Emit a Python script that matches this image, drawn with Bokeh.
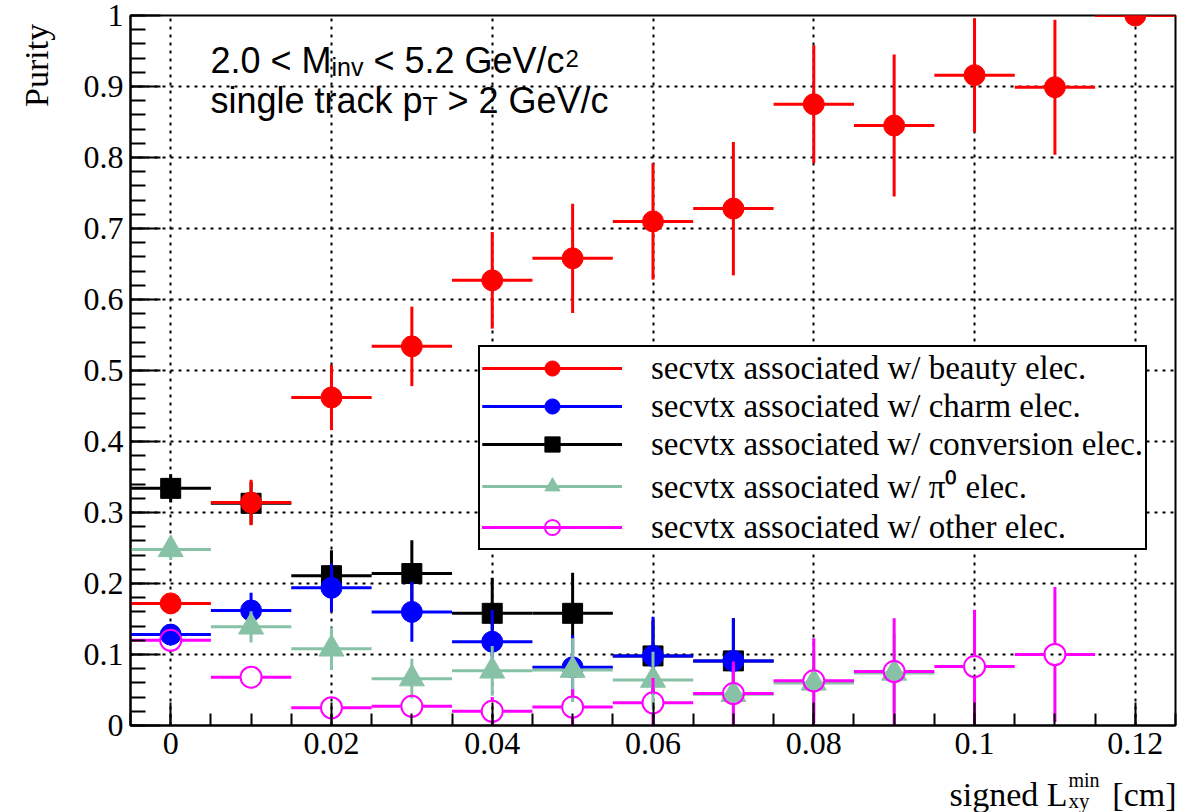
import numpy as np
from bokeh.plotting import figure
from bokeh.models import Range1d, FixedTicker, Label, Legend, LegendItem
from bokeh.layouts import row, column
from bokeh.embed import file_html
from bokeh.resources import INLINE

# ---------------- data ----------------
x_half_width = 0.005

beauty_x = [0.00, 0.01, 0.02, 0.03, 0.04, 0.05, 0.06, 0.07, 0.08, 0.09, 0.10, 0.11, 0.12]
beauty_y = [0.172, 0.314, 0.462, 0.534, 0.627, 0.658, 0.710, 0.728, 0.875, 0.845, 0.916, 0.899, 1.000]
beauty_err = [0.010, 0.032, 0.046, 0.056, 0.068, 0.077, 0.082, 0.094, 0.083, 0.100, 0.080, 0.095, 0.0]

charm_x = [0.00, 0.01, 0.02, 0.03, 0.04, 0.05, 0.06, 0.07]
charm_y = [0.128, 0.162, 0.194, 0.160, 0.118, 0.082, 0.098, 0.091]
charm_err = [0.010, 0.025, 0.034, 0.042, 0.045, 0.045, 0.055, 0.060]

conv_x = [0.00, 0.01, 0.02, 0.03, 0.04, 0.05, 0.06, 0.07]
conv_y = [0.334, 0.313, 0.211, 0.214, 0.158, 0.158, 0.098, 0.091]
conv_err = [0.020, 0.030, 0.036, 0.047, 0.050, 0.057, 0.050, 0.060]

pi0_x = [0.00, 0.01, 0.02, 0.03, 0.04, 0.05, 0.06, 0.07, 0.08, 0.09]
pi0_y = [0.248, 0.139, 0.108, 0.066, 0.077, 0.078, 0.064, 0.044, 0.060, 0.074]
pi0_err = [0.015, 0.022, 0.030, 0.028, 0.035, 0.045, 0.040, 0.040, 0.045, 0.055]

other_x = [0.00, 0.01, 0.02, 0.03, 0.04, 0.05, 0.06, 0.07, 0.08, 0.09, 0.10, 0.11]
other_y = [0.120, 0.068, 0.025, 0.027, 0.020, 0.026, 0.032, 0.045, 0.063, 0.076, 0.083, 0.100]
other_err = [0.008, 0.010, 0.010, 0.012, 0.020, 0.025, 0.035, 0.045, 0.060, 0.075, 0.080, 0.095]

x_tick_values = [0.0, 0.02, 0.04, 0.06, 0.08, 0.10, 0.12]
x_tick_labels = ["0", "0.02", "0.04", "0.06", "0.08", "0.1", "0.12"]
y_tick_values = [0.0, 0.1, 0.2, 0.3, 0.4, 0.5, 0.6, 0.7, 0.8, 0.9, 1.0]
y_tick_labels = ["0", "0.1", "0.2", "0.3", "0.4", "0.5", "0.6", "0.7", "0.8", "0.9", "1"]

labels = {
    "beauty": "secvtx associated w/ beauty elec.",
    "charm": "secvtx associated w/ charm elec.",
    "conv": "secvtx associated w/ conversion elec.",
    "pi0": "secvtx associated w/ \u03c0\u2070 elec.",
    "other": "secvtx associated w/ other elec.",
}

# ---------------- layout ----------------
W, H = 1203, 812
LEFT_W = 60                     # left strip (y title)
MAIN_H = 768                    # main figure height (frame + x tick labels)
FL, FR, FT, FB = 130, 1175, 15, 725
X0, X1, Y0, Y1 = -0.005, 0.125, 0.0, 1.0


def dx(px):
    return X0 + (px - FL) * (X1 - X0) / (FR - FL)


def dy(py):
    return Y0 + (FB - py) * (Y1 - Y0) / (FB - FT)


p = figure(width=W - LEFT_W, height=MAIN_H, output_backend="svg", toolbar_location=None,
           x_range=Range1d(X0, X1), y_range=Range1d(Y0, Y1), title=None,
           min_border_left=FL - LEFT_W, min_border_right=W - FR,
           min_border_top=FT, min_border_bottom=MAIN_H - FB)
p.background_fill_color = "white"
p.border_fill_color = "white"
p.outline_line_color = "black"
p.outline_line_width = 2

p.xaxis.ticker = FixedTicker(ticks=x_tick_values,
                             minor_ticks=list(np.arange(-0.005, 0.1251, 0.005)))
p.yaxis.ticker = FixedTicker(ticks=y_tick_values,
                             minor_ticks=list(np.arange(0.0, 1.0001, 0.02)))
p.xaxis.major_label_overrides = dict(zip(x_tick_values, x_tick_labels))
p.yaxis.major_label_overrides = dict(zip(y_tick_values, y_tick_labels))

for ax in (p.xaxis, p.yaxis):
    ax.axis_line_width = 2
    ax.axis_line_color = "black"
    ax.major_tick_line_color = "black"
    ax.minor_tick_line_color = "black"
    ax.major_tick_line_width = 2
    ax.minor_tick_line_width = 2
    ax.major_tick_out = 0
    ax.minor_tick_out = 0
    ax.major_label_text_font = "Liberation Serif"
    ax.major_label_text_font_size = "32px"
    ax.major_label_text_color = "black"
p.xaxis.major_tick_in = 23
p.xaxis.minor_tick_in = 12
p.yaxis.major_tick_in = 30
p.yaxis.minor_tick_in = 15
p.xaxis.major_label_standoff = 7
p.yaxis.major_label_standoff = 7

p.grid.grid_line_color = "black"
p.grid.grid_line_dash = "3 5"
p.grid.grid_line_width = 2

# ---------------- series ----------------
LW = 3


def draw_series(xs, ys, errs, color, marker, size, fill, gap_px=0.0):
    xs = np.asarray(xs, float)
    ys = np.asarray(ys, float)
    errs = np.asarray(errs, float)
    rends = []
    gx = gap_px * (X1 - X0) / (FR - FL)
    gy = gap_px * (Y1 - Y0) / (FB - FT)
    if gap_px > 0:
        rends.append(p.segment(x0=xs - x_half_width, y0=ys, x1=xs - gx, y1=ys,
                               line_color=color, line_width=LW))
        rends.append(p.segment(x0=xs + gx, y0=ys, x1=xs + x_half_width, y1=ys,
                               line_color=color, line_width=LW))
        m = errs > gy
        rends.append(p.segment(x0=xs[m], y0=ys[m] + gy, x1=xs[m], y1=ys[m] + errs[m],
                               line_color=color, line_width=LW))
        rends.append(p.segment(x0=xs[m], y0=ys[m] - errs[m], x1=xs[m], y1=ys[m] - gy,
                               line_color=color, line_width=LW))
    else:
        rends.append(p.segment(x0=xs - x_half_width, y0=ys, x1=xs + x_half_width, y1=ys,
                               line_color=color, line_width=LW))
        m = errs > 0
        rends.append(p.segment(x0=xs[m], y0=ys[m] - errs[m], x1=xs[m], y1=ys[m] + errs[m],
                               line_color=color, line_width=LW))
    if fill:
        rends.append(p.scatter(xs, ys, marker=marker, size=size, fill_color=color,
                               line_color=color, line_width=1))
    else:
        rends.append(p.scatter(xs, ys, marker=marker, size=size, fill_color=None,
                               line_color=color, line_width=2))
    return rends


RED, BLUE, BLACK, GREEN, MAGENTA = "#ff0000", "#0000ff", "#000000", "#88c2a6", "#ff00ff"

r_conv = draw_series(conv_x, conv_y, conv_err, BLACK, "square", 20, True)
r_beauty = draw_series(beauty_x, beauty_y, beauty_err, RED, "circle", 21, True)
r_charm = draw_series(charm_x, charm_y, charm_err, BLUE, "circle", 21, True)
r_pi0 = draw_series(pi0_x, pi0_y, pi0_err, GREEN, "triangle", 25, True)
r_other = draw_series(other_x, other_y, other_err, MAGENTA, "circle", 21, False, gap_px=11)

legend = Legend(items=[
    LegendItem(label=labels["beauty"], renderers=r_beauty),
    LegendItem(label=labels["charm"], renderers=r_charm),
    LegendItem(label=labels["conv"], renderers=r_conv),
    LegendItem(label=labels["pi0"], renderers=r_pi0),
    LegendItem(label=labels["other"], renderers=r_other),
], location=(478 - FL, FB - 550), orientation="vertical",
    border_line_color="black", border_line_width=2, border_line_alpha=1.0,
    background_fill_color="white", background_fill_alpha=1.0,
    padding=2, spacing=0, margin=0,
    glyph_width=140, glyph_height=38, label_height=38, label_standoff=29,
    label_text_font="Liberation Serif", label_text_font_size="33px",
    label_text_color="black")
p.add_layout(legend)

SANS = "Liberation Sans"
SERIF = "Liberation Serif"
# offset between the requested label anchor and the rendered alphabetic baseline
MID = {SANS: 0.3465, SERIF: 0.3375}


def lab(fig, x, y, text, font, size, align="left", angle=0.0):
    fig.add_layout(Label(x=x, y=y, text=text, text_font=font,
                         text_font_size=f"{size}px", text_align=align,
                         text_baseline="alphabetic", angle=angle, text_color="black"))


# top-left annotation (inside the frame); px, baseline py in canvas pixels
def plab(px, base_py, text, font, size, align="left"):
    lab(p, dx(px), dy(base_py - MID[font] * size), text, font, size, align)


plab(210, 72, "2.0 < M", SANS, 36)
plab(331, 75, "inv", SANS, 25)
plab(373, 72, "< 5.2 GeV/c", SANS, 36)
plab(565, 66, "2", SANS, 24)
plab(210, 112, "single track p", SANS, 36)
plab(422, 114, "T", SANS, 25)
plab(447, 112, "> 2 GeV/c", SANS, 36)


def strip(w, h):
    f = figure(width=w, height=h, output_backend="svg", toolbar_location=None,
               x_range=Range1d(0, w), y_range=Range1d(0, h), title=None,
               x_axis_location=None, y_axis_location=None,
               min_border=0, min_border_left=0, min_border_right=0,
               min_border_top=0, min_border_bottom=0)
    f.grid.visible = False
    f.outline_line_color = None
    f.background_fill_color = "white"
    f.border_fill_color = "white"
    return f


# left strip: y-axis title (x = canvas px, y = MAIN_H - canvas py)
left = strip(LEFT_W, MAIN_H)
lab(left, 47 - MID[SERIF] * 34, MAIN_H - 9, "Purity", SERIF, 34, align="right",
    angle=np.pi / 2)

# bottom strip: x-axis title (x = canvas px, y = 812 - canvas baseline py)
BOT_H = H - MAIN_H


def blab(px, base_py, text, size, align="left"):
    lab(bottom, px, H - base_py + MID[SERIF] * size, text, SERIF, size, align)


bottom = strip(W, BOT_H)
blab(1067, 805, "signed L", 34, align="right")
blab(1068, 786, "min", 20)
blab(1068, 808, "xy", 21)
blab(1176, 805, "[cm]", 34, align="right")

layout = column(row(left, p), bottom)
open("out.html", "w").write(file_html(layout, INLINE))
